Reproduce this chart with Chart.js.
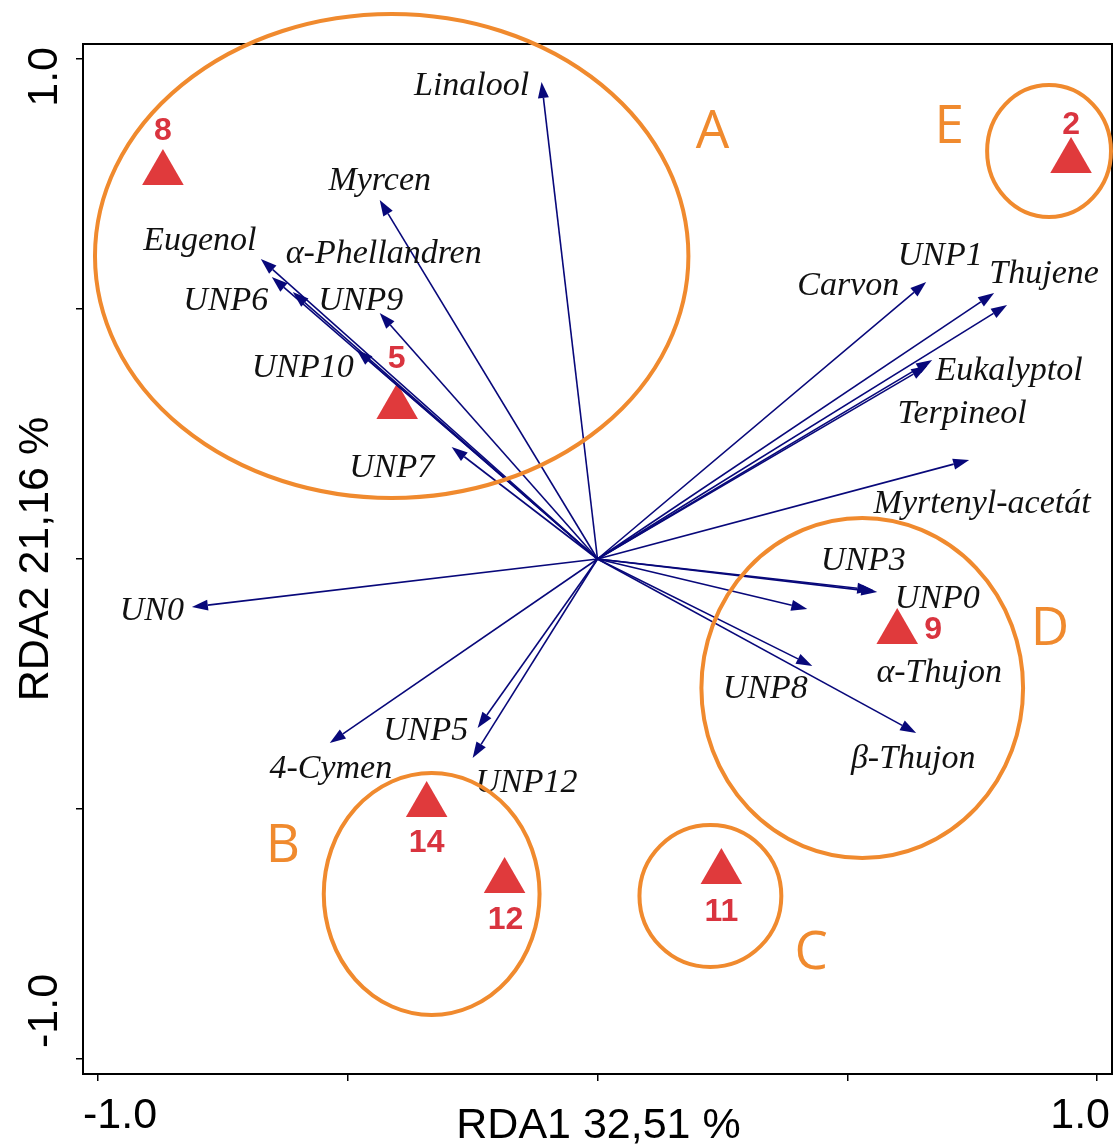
<!DOCTYPE html>
<html>
<head>
<meta charset="utf-8">
<script src="https://cdn.jsdelivr.net/npm/chart.js@4.4.1/dist/chart.umd.min.js"></script>
<style>
  html, body { margin: 0; padding: 0; background: #ffffff; }
  canvas { display: block; }
</style>
</head>
<body>
<canvas id="rda" width="1115" height="1144"></canvas>
<script>
// RDA biplot of essential-oil compounds (arrows) and samples (triangles)

// Compound (response variable) scores: arrow tips
const varNames = ['Linalool', 'Myrcen', 'Eugenol', 'UNP6', 'α-Phellandren', 'UNP9', 'UNP10', 'UNP7',
  'Carvon', 'UNP1', 'Thujene', 'Eukalyptol', 'Terpineol', 'Myrtenyl-acetát',
  'UNP3', 'UNP0', 'α-Thujon', 'UNP8', 'β-Thujon',
  'UN0', '4-Cymen', 'UNP5', 'UNP12'];
const varX = [-0.112, -0.436, -0.674, -0.652, -0.610, -0.436, -0.482, -0.292,
  0.658, 0.794, 0.820, 0.670, 0.660, 0.744,
  0.560, 0.552, 0.420, 0.430, 0.638,
  -0.812, -0.536, -0.240, -0.250];
const varY = [0.954, 0.718, 0.600, 0.564, 0.534, 0.492, 0.418, 0.224,
  0.554, 0.532, 0.508, 0.398, 0.386, 0.198,
  -0.066, -0.062, -0.100, -0.214, -0.348,
  -0.096, -0.368, -0.338, -0.398];
// Where each compound name sits (centre x, baseline y)
const varLabelX = [-0.252, -0.436, -0.796, -0.744, -0.428, -0.474, -0.590, -0.412,
  0.502, 0.686, 0.894, 0.824, 0.730, 0.770,
  0.532, 0.680, 0.684, 0.336, 0.632,
  -0.892, -0.534, -0.344, -0.142];
const varLabelY = [0.928, 0.738, 0.618, 0.498, 0.592, 0.498, 0.364, 0.164,
  0.528, 0.588, 0.552, 0.358, 0.272, 0.092,
  -0.022, -0.098, -0.246, -0.278, -0.418,
  -0.122, -0.438, -0.362, -0.466];

// Sample scores
const siteNames = ['8', '5', '2', '9', '14', '12', '11'];
const siteX = [-0.870, -0.401, 0.948, 0.600, -0.342, -0.186, 0.248];
const siteY = [0.772, 0.304, 0.796, -0.146, -0.492, -0.644, -0.626];
const siteLabelX = [-0.870, -0.402, 0.948, 0.672, -0.342, -0.184, 0.248];
const siteLabelY = [0.856, 0.400, 0.868, -0.142, -0.568, -0.722, -0.706];

// Sample groups (ellipses) and their letters
const groupNames = ['A', 'B', 'C', 'D', 'E'];
const groupCx = [-0.412, -0.332, 0.226, 0.530, 0.904];
const groupCy = [0.606, -0.670, -0.674, -0.258, 0.816];
const groupRx = [0.594, 0.216, 0.142, 0.322, 0.124];
const groupRy = [0.484, 0.242, 0.142, 0.340, 0.132];
const groupLabelX = [0.230, -0.630, 0.428, 0.906, 0.704];
const groupLabelY = [0.822, -0.606, -0.820, -0.172, 0.832];

// Axes
const axisTicks = [-1, -0.5, 0, 0.5, 1];
const tickLabels = ['-1.0', '', '', '', '1.0'];
const xTitle = 'RDA1 32,51 %';
const yTitle = 'RDA2 21,16 %';

const NAVY = '#08087a';
const RED = '#e03a3c';
const RED_TEXT = '#d9343f';
const ORANGE = '#f08a2e';

const sitePoints = siteX.map((v, i) => ({ x: v, y: siteY[i] }));

const biplotLayer = {
  id: 'biplotLayer',
  afterDatasetsDraw(chart) {
    const { ctx, scales: { x, y } } = chart;
    const ox = x.getPixelForValue(0);
    const oy = y.getPixelForValue(0);
    ctx.save();
    // arrows from the origin
    ctx.strokeStyle = NAVY;
    ctx.fillStyle = NAVY;
    ctx.lineWidth = 1.6;
    const headLen = 16, headHalf = 5.5;
    varNames.forEach((name, i) => {
      const tx = x.getPixelForValue(varX[i]);
      const ty = y.getPixelForValue(varY[i]);
      const a = Math.atan2(ty - oy, tx - ox);
      const bx = tx - headLen * Math.cos(a);
      const by = ty - headLen * Math.sin(a);
      ctx.beginPath();
      ctx.moveTo(ox, oy);
      ctx.lineTo(bx, by);
      ctx.stroke();
      ctx.beginPath();
      ctx.moveTo(tx, ty);
      ctx.lineTo(bx + headHalf * Math.sin(a), by - headHalf * Math.cos(a));
      ctx.lineTo(bx - headHalf * Math.sin(a), by + headHalf * Math.cos(a));
      ctx.closePath();
      ctx.fill();
    });
    // compound names
    ctx.fillStyle = '#111111';
    ctx.font = 'italic 34px "Liberation Serif", "DejaVu Serif", serif';
    ctx.textAlign = 'center';
    ctx.textBaseline = 'alphabetic';
    varNames.forEach((name, i) => {
      ctx.fillText(name, x.getPixelForValue(varLabelX[i]), y.getPixelForValue(varLabelY[i]));
    });
    // sample numbers
    ctx.fillStyle = RED_TEXT;
    ctx.font = 'bold 32px "Liberation Sans", Arial, sans-serif';
    ctx.textBaseline = 'middle';
    siteNames.forEach((name, i) => {
      ctx.fillText(name, x.getPixelForValue(siteLabelX[i]), y.getPixelForValue(siteLabelY[i]));
    });
    ctx.restore();
  },
  afterDraw(chart) {
    const { ctx, chartArea: area, scales: { x, y } } = chart;
    ctx.save();
    // frame
    ctx.strokeStyle = '#000000';
    ctx.lineWidth = 2;
    ctx.strokeRect(area.left, area.top, area.right - area.left, area.bottom - area.top);

    // tick labels, kept inside the frame's extent
    ctx.fillStyle = '#000000';
    ctx.font = '43px "Liberation Sans", Arial, sans-serif';
    ctx.textBaseline = 'alphabetic';
    const base = area.bottom + 54;
    axisTicks.forEach((v, i) => {
      const lab = tickLabels[i];
      if (!lab) return;
      const px = x.getPixelForValue(v);
      if (i === 0) { ctx.textAlign = 'left'; ctx.fillText(lab, area.left, base); }
      else if (i === axisTicks.length - 1) { ctx.textAlign = 'right'; ctx.fillText(lab, area.right - 2, base); }
      else { ctx.textAlign = 'center'; ctx.fillText(lab, px, base); }
    });
    axisTicks.forEach((v, i) => {
      const lab = tickLabels[i];
      if (!lab) return;
      const py = y.getPixelForValue(v);
      ctx.save();
      ctx.translate(area.left - 26, py);
      ctx.rotate(-Math.PI / 2);
      if (i === 0) { ctx.textAlign = 'left'; ctx.fillText(lab, area.bottom - 4 - py, 0); }
      else if (i === axisTicks.length - 1) { ctx.textAlign = 'right'; ctx.fillText(lab, py - area.top - 3, 0); }
      else { ctx.textAlign = 'center'; ctx.fillText(lab, 0, 0); }
      ctx.restore();
    });

    // axis titles
    ctx.textAlign = 'center';
    ctx.fillText(xTitle, (area.left + area.right) / 2 + 1, area.bottom + 64);
    ctx.save();
    ctx.translate(area.left - 35, (area.top + area.bottom) / 2);
    ctx.rotate(-Math.PI / 2);
    ctx.fillText(yTitle, 0, 0);
    ctx.restore();

    // group ellipses and letters
    ctx.strokeStyle = ORANGE;
    ctx.lineWidth = 4;
    groupNames.forEach((g, i) => {
      const cx = x.getPixelForValue(groupCx[i]);
      const cy = y.getPixelForValue(groupCy[i]);
      const rx = Math.abs(x.getPixelForValue(groupCx[i] + groupRx[i]) - cx);
      const ry = Math.abs(y.getPixelForValue(groupCy[i] + groupRy[i]) - cy);
      ctx.beginPath();
      ctx.ellipse(cx, cy, rx, ry, 0, 0, Math.PI * 2);
      ctx.stroke();
    });
    ctx.fillStyle = ORANGE;
    ctx.font = '53px "Open Sans", "Liberation Sans", sans-serif';
    ctx.textAlign = 'center';
    ctx.textBaseline = 'alphabetic';
    groupNames.forEach((g, i) => {
      ctx.fillText(g, x.getPixelForValue(groupLabelX[i]), y.getPixelForValue(groupLabelY[i]));
    });
    ctx.restore();
  }
};

const axisCommon = {
  type: 'linear',
  min: -1.03,
  max: 1.03,
  afterBuildTicks: (scale) => { scale.ticks = axisTicks.map(v => ({ value: v })); },
  ticks: { display: false },
  grid: { drawOnChartArea: false, drawTicks: true, tickLength: 7, color: '#000000', lineWidth: 1.5 },
  border: { display: true, color: '#000000', width: 2 },
  title: { display: false }
};

new Chart(document.getElementById('rda'), {
  type: 'scatter',
  data: {
    datasets: [{
      label: 'Samples',
      data: sitePoints,
      pointStyle: 'triangle',
      pointRadius: 24,
      pointHoverRadius: 24,
      backgroundColor: RED,
      borderColor: RED,
      borderWidth: 0
    }]
  },
  options: {
    responsive: false,
    animation: false,
    devicePixelRatio: 1,
    layout: { autoPadding: false, padding: { top: 44, right: 3, left: 0, bottom: 0 } },
    plugins: { legend: { display: false }, tooltip: { enabled: false } },
    scales: {
      x: Object.assign({}, axisCommon, { position: 'bottom', afterFit: (s) => { s.height = 70; } }),
      y: Object.assign({}, axisCommon, { position: 'left', afterFit: (s) => { s.width = 83; } })
    }
  },
  plugins: [biplotLayer]
});
</script>
</body>
</html>
